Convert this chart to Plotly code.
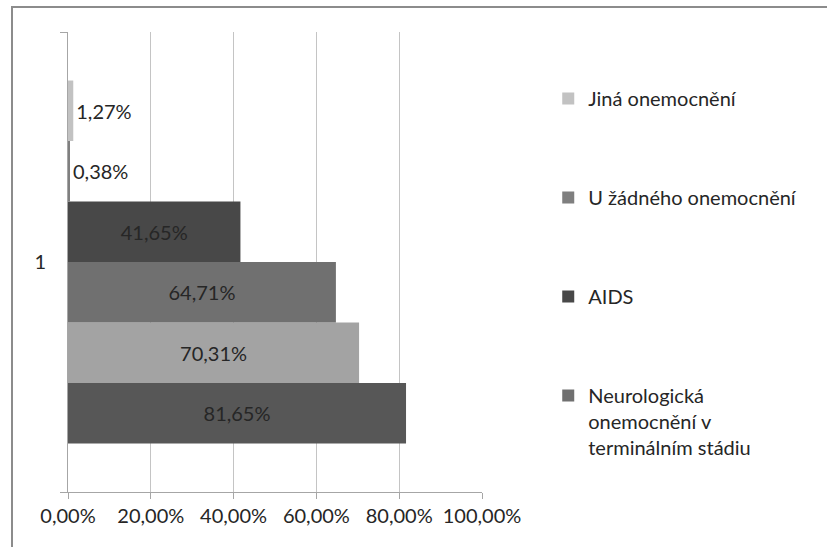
import plotly.graph_objects as go

category = ["1"]
# series from bottom bar to top bar
series_names = [None, None, "Neurologická<br>onemocnění v<br>terminálním stádiu", "AIDS",
                "U žádného onemocnění", "Jiná onemocnění"]
series_values = [81.65, 70.31, 64.71, 41.65, 0.38, 1.27]
series_colors = ["#575757", "#a3a3a3", "#707070", "#484848", "#7f7f7f", "#c2c2c2"]
x_ticks = [0, 20, 40, 60, 80, 100]

FONT = "Lato"
FS = 20
TXT = "#262626"

def fmt(v):
    return f"{v:.2f}".replace(".", ",") + "%"

fig = go.Figure()
n = len(series_values)
for i, (name, val, col) in enumerate(zip(series_names, series_values, series_colors)):
    fig.add_trace(go.Bar(
        y=category, x=[val], orientation="h",
        name=name if name else f"s{i}",
        showlegend=name is not None,
        legendgroup=f"g{i}",
        legendrank=n - i,
        marker=dict(color=col, line=dict(width=0)),
        text=[fmt(val)], textposition="auto", insidetextanchor="middle",
        textfont=dict(family=FONT, size=FS, color=TXT),
        outsidetextfont=dict(family=FONT, size=FS, color=TXT),
        insidetextfont=dict(family=FONT, size=FS, color=TXT),
        cliponaxis=False,
    ))

fig.update_layout(
    width=827, height=547,
    margin=dict(l=68, r=345, t=32, b=55, autoexpand=False),
    paper_bgcolor="white", plot_bgcolor="white",
    barmode="group", bargap=0.211, bargroupgap=0,
    font=dict(family=FONT, size=FS, color=TXT),
    separators=",.",
    showlegend=True,
    legend=dict(
        x=1.16, y=0.898, xanchor="left", yanchor="top",
        traceorder="grouped", tracegroupgap=70, valign="top",
        font=dict(family=FONT, size=FS, color=TXT),
        bgcolor="rgba(0,0,0,0)",
    ),
    xaxis=dict(
        range=[0, 100], tickvals=x_ticks, ticktext=[fmt(v) for v in x_ticks],
        showgrid=True, gridcolor="#c4c4c4", gridwidth=1,
        showline=True, linecolor="#a6a6a6", linewidth=1,
        ticks="outside", ticklen=6, tickcolor="#a6a6a6",
        zeroline=False, fixedrange=True,
        tickfont=dict(family=FONT, size=FS, color=TXT),
    ),
    yaxis=dict(
        type="category", range=[-0.5, 0.5],
        showgrid=False, showline=True, linecolor="#a6a6a6", linewidth=1,
        ticks="outside", ticklen=7, tickcolor="#a6a6a6", tickson="boundaries",
        tickfont=dict(family=FONT, size=FS, color=TXT),
        ticklabelstandoff=17,
    ),
    shapes=[dict(
        type="rect", xref="paper", yref="paper",
        x0=(12 - 68) / 414, x1=(840 - 68) / 414,
        y0=(492 - 560) / 460, y1=1 + (32 - 7) / 460,
        line=dict(color="#8c8c8c", width=2), fillcolor="rgba(0,0,0,0)", layer="below",
    )],
)

fig.write_html("out.html", config={"displayModeBar": False},
               post_script="document.body.style.margin='0';document.body.style.overflow='hidden';")
